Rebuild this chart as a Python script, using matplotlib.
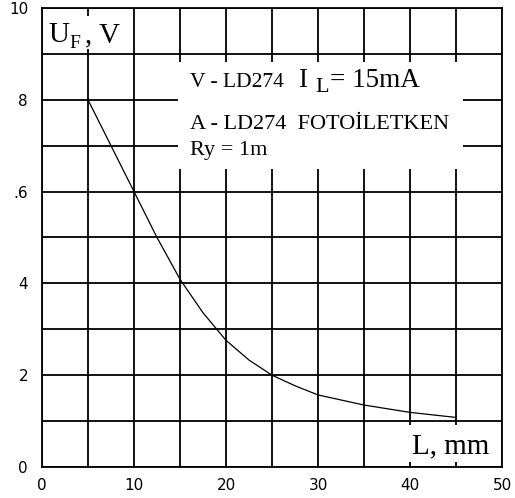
import matplotlib
matplotlib.use("Agg")
import matplotlib.pyplot as plt
from matplotlib.patches import Rectangle

# data
L_mm = [5, 10, 12.5, 15, 17.5, 20, 22.5, 25, 27.5, 30, 35, 40, 45]
U_V = [8.0, 6.0, 5.0, 4.09, 3.36, 2.76, 2.33, 2.0, 1.77, 1.57, 1.35, 1.19, 1.08]

x_ticks = [0, 10, 20, 30, 40, 50]
x_labels = ["0", "10", "20", "30", "40", "50"]
y_ticks = [0, 2, 4, 6, 8, 10]
y_labels = ["0", "2", "4", ".6", "8", "10"]

fig = plt.figure(figsize=(5.15, 4.98), dpi=100)
ax = fig.add_axes([42/515, 31/498, 460/515, 459/498])

ax.set_xlim(0, 50)
ax.set_ylim(0, 10)
ax.set_axisbelow(True)
ax.set_xticks(x_ticks)
ax.set_xticklabels(x_labels)
ax.set_xticks(range(5, 50, 10), minor=True)
ax.set_yticks(y_ticks)
ax.set_yticklabels(y_labels)
ax.set_yticks(range(1, 10, 2), minor=True)
ax.grid(True, which="both", color="black", linewidth=1.3)
ax.tick_params(which="both", length=0)
ax.tick_params(axis="x", pad=8, labelsize=11)
ax.tick_params(axis="y", pad=10, labelsize=11)
for s in ax.spines.values():
    s.set_linewidth(1.3)

# white boxes behind the labels
ax.add_patch(Rectangle((0.3, 9.1), 9.3, 0.72, facecolor="white", edgecolor="none", zorder=1))
ax.add_patch(Rectangle((14.8, 6.5), 31.0, 2.32, facecolor="white", edgecolor="none", zorder=1))
ax.add_patch(Rectangle((38.5, 0.1), 11.2, 0.82, facecolor="white", edgecolor="none", zorder=1))

ax.plot(L_mm, U_V, color="black", linewidth=0.9, zorder=3)

serif = "Liberation Serif"
# axis titles, subscripts drawn as separate texts
ax.text(0.65, 9.26, "U", fontsize=21, family=serif, va="baseline", zorder=4)
ax.text(3.0, 9.13, "F", fontsize=14, family=serif, va="baseline", zorder=4)
ax.text(4.7, 9.26, ", V", fontsize=21, family=serif, va="baseline", zorder=4)
ax.text(40.2, 0.30, "L, mm", fontsize=21, family=serif, va="baseline", zorder=4)

# legend block
ax.text(16.1, 8.28, "V - LD274", fontsize=15.5, family=serif, va="baseline", zorder=4)
ax.text(27.8, 8.28, "I", fontsize=19.5, family=serif, va="baseline", zorder=4)
ax.text(29.7, 8.17, "L", fontsize=16, family=serif, va="baseline", zorder=4)
ax.text(31.3, 8.28, "= 15mA", fontsize=19.5, family=serif, va="baseline", zorder=4)
ax.text(16.1, 7.36, "A - LD274  FOTOİLETKEN", fontsize=16, family=serif, va="baseline", zorder=4)
ax.text(16.1, 6.80, "Ry = 1m", fontsize=16, family=serif, va="baseline", zorder=4)

fig.savefig("out.png", dpi=100)
